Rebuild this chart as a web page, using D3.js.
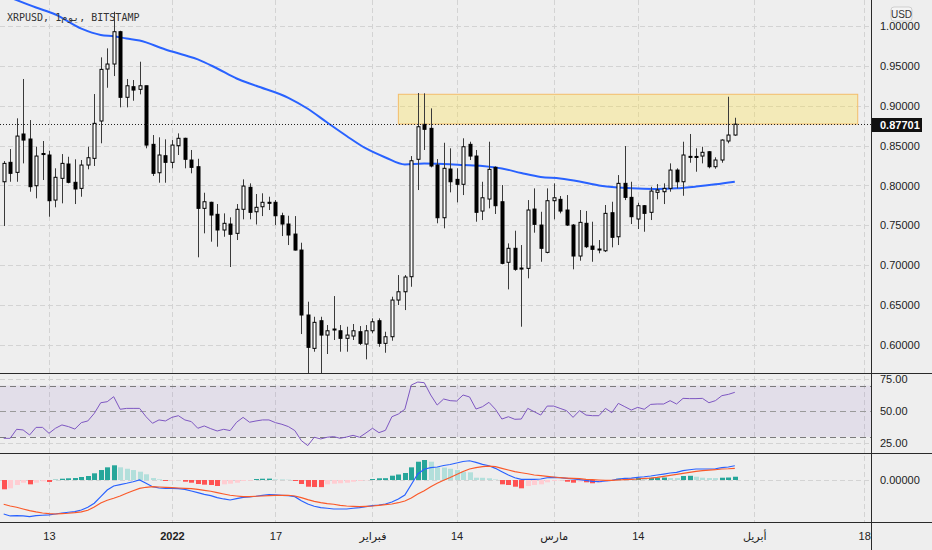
<!DOCTYPE html>
<html>
<head>
<meta charset="utf-8">
<script src="https://cdn.jsdelivr.net/npm/d3@7"></script>
<style>
  body { margin: 0; background: #eeeeee; }
  svg { display: block; font-family: "Liberation Sans", "DejaVu Sans", sans-serif; }
</style>
</head>
<body>
<script>
// daily candles, first one is 6 Dec 2021
var firstDay = "2021-12-06";

var opens = [
  0.8047, 0.8291, 0.8165, 0.8647, 0.8584, 0.7997, 0.8402, 0.8383, 0.7817, 0.8090,
  0.8270, 0.8040, 0.7964, 0.8257, 0.8341, 0.8810, 0.9463, 0.9526, 0.9932, 0.9108,
  0.9241, 0.9208, 0.9253, 0.8517, 0.8160, 0.8374, 0.8291, 0.8500, 0.8593, 0.8320,
  0.8236, 0.7713, 0.7789, 0.7638, 0.7441, 0.7516, 0.7399, 0.7701, 0.7977, 0.7670,
  0.7733, 0.7789, 0.7789, 0.7620, 0.7516, 0.7390, 0.7189, 0.6373, 0.5954, 0.6301,
  0.6121, 0.6197, 0.6175, 0.6080, 0.6109, 0.6163, 0.6008, 0.6175, 0.6301, 0.6017,
  0.6100, 0.6561, 0.6665, 0.6854, 0.8329, 0.8768, 0.8718, 0.8257, 0.7595, 0.8207,
  0.8077, 0.8015, 0.8517, 0.8370, 0.7679, 0.7830, 0.8228, 0.7796, 0.7035, 0.7211,
  0.6963, 0.6959, 0.7704, 0.7503, 0.7160, 0.7809, 0.7826, 0.7692, 0.7503, 0.7114,
  0.7525, 0.7239, 0.7202, 0.7180, 0.7658, 0.7356, 0.8027, 0.7851, 0.7579, 0.7746,
  0.7663, 0.7914, 0.7922, 0.7964, 0.8194, 0.8047, 0.8366, 0.8365, 0.8370, 0.8424,
  0.8236, 0.8320, 0.8559, 0.8634
];
var highs = [
  0.8307, 0.8458, 0.8844, 0.9338, 0.8822, 0.8487, 0.8559, 0.8437, 0.8216, 0.8395,
  0.8361, 0.8329, 0.8320, 0.8487, 0.9149, 0.9610, 0.9723, 1.0183, 0.9944, 0.9338,
  0.9325, 0.9555, 0.9253, 0.8634, 0.8605, 0.8580, 0.8571, 0.8655, 0.8600, 0.8446,
  0.8336, 0.7909, 0.7796, 0.7767, 0.7650, 0.7600, 0.7767, 0.8077, 0.8027, 0.7893,
  0.7902, 0.7859, 0.7817, 0.7658, 0.7620, 0.7616, 0.7281, 0.6540, 0.6351, 0.6351,
  0.6247, 0.6611, 0.6247, 0.6226, 0.6260, 0.6234, 0.6247, 0.6331, 0.6331, 0.6163,
  0.6603, 0.6875, 0.6875, 0.8370, 0.9162, 0.9158, 0.8969, 0.8332, 0.8537, 0.8467,
  0.8216, 0.8593, 0.8550, 0.8446, 0.8047, 0.8550, 0.8240, 0.8006, 0.7273, 0.7432,
  0.7252, 0.7817, 0.7964, 0.7670, 0.7964, 0.8027, 0.7868, 0.7880, 0.7516, 0.7692,
  0.7680, 0.7545, 0.7315, 0.7755, 0.7796, 0.8131, 0.8496, 0.8047, 0.7783, 0.7755,
  0.7984, 0.8018, 0.8027, 0.8278, 0.8216, 0.8550, 0.8647, 0.8467, 0.8487, 0.8433,
  0.8354, 0.8580, 0.9115, 0.8851
];
var lows = [
  0.7491, 0.8047, 0.8047, 0.8278, 0.7922, 0.7839, 0.8069, 0.7608, 0.7726, 0.7776,
  0.8027, 0.7767, 0.7859, 0.8203, 0.8245, 0.8530, 0.9228, 0.9375, 0.8982, 0.8982,
  0.9065, 0.9145, 0.8467, 0.8119, 0.8035, 0.8035, 0.8216, 0.8383, 0.8216, 0.8153,
  0.7098, 0.7399, 0.7294, 0.7231, 0.7356, 0.6976, 0.7315, 0.7575, 0.7575, 0.7510,
  0.7616, 0.7692, 0.7503, 0.7365, 0.7252, 0.7183, 0.6134, 0.5500, 0.5912, 0.5560,
  0.5883, 0.6059, 0.5912, 0.5912, 0.6059, 0.5996, 0.5816, 0.6143, 0.5974, 0.5899,
  0.6050, 0.6498, 0.6435, 0.6728, 0.7943, 0.8446, 0.8228, 0.7525, 0.7462, 0.7914,
  0.7788, 0.7880, 0.8320, 0.7545, 0.7566, 0.7713, 0.7642, 0.7010, 0.6695, 0.6929,
  0.6226, 0.6834, 0.7407, 0.7042, 0.7148, 0.7575, 0.7650, 0.7491, 0.6947, 0.7055,
  0.7214, 0.7042, 0.7148, 0.7164, 0.7223, 0.7252, 0.7817, 0.7516, 0.7453, 0.7419,
  0.7566, 0.7826, 0.7767, 0.7922, 0.7964, 0.7871, 0.8286, 0.8173, 0.8278, 0.8216,
  0.8211, 0.8286, 0.8530, 0.8625
];
var closes = [
  0.8278, 0.8153, 0.8621, 0.8571, 0.7985, 0.8370, 0.8389, 0.7809, 0.8103, 0.8278,
  0.8040, 0.7956, 0.8257, 0.8349, 0.8781, 0.9459, 0.9526, 0.9932, 0.9108, 0.9253,
  0.9199, 0.9253, 0.8508, 0.8153, 0.8383, 0.8291, 0.8508, 0.8593, 0.8329, 0.8228,
  0.7713, 0.7796, 0.7629, 0.7441, 0.7525, 0.7387, 0.7701, 0.7993, 0.7663, 0.7726,
  0.7789, 0.7780, 0.7620, 0.7516, 0.7378, 0.7189, 0.6373, 0.5967, 0.6281, 0.6121,
  0.6175, 0.6188, 0.6080, 0.6121, 0.6175, 0.6017, 0.6175, 0.6288, 0.6017, 0.6100,
  0.6561, 0.6665, 0.6850, 0.8311, 0.8738, 0.8706, 0.8245, 0.7595, 0.8216, 0.8047,
  0.8015, 0.8487, 0.8370, 0.7663, 0.7846, 0.8203, 0.7746, 0.7022, 0.7211, 0.6947,
  0.6955, 0.7692, 0.7512, 0.7211, 0.7809, 0.7846, 0.7679, 0.7503, 0.7114, 0.7537,
  0.7231, 0.7198, 0.7194, 0.7650, 0.7349, 0.8027, 0.7851, 0.7608, 0.7746, 0.7650,
  0.7930, 0.7943, 0.7964, 0.8194, 0.8047, 0.8383, 0.8358, 0.8358, 0.8417, 0.8236,
  0.8320, 0.8571, 0.8634, 0.87701
];

// moving average, read at some of the candles (index -> value)
var maIndex = [0, 5, 8, 12, 15, 17, 19, 21, 25, 28, 30, 33, 36, 39, 44, 47, 50, 53, 56, 59,
  62, 65, 68, 71, 74, 77, 80, 83, 86, 89, 92, 95, 98, 101, 104, 107, 110, 113];
var maValues = [1.0393, 1.0236, 1.0148, 0.9970, 0.9891, 0.9874, 0.9847, 0.9822, 0.9709, 0.9636,
  0.9585, 0.9470, 0.9344, 0.9253, 0.9102, 0.8964, 0.8791, 0.8622, 0.8465, 0.8352,
  0.8264, 0.8276, 0.8270, 0.8258, 0.8245, 0.8214, 0.8157, 0.8107, 0.8088, 0.8050,
  0.8000, 0.7975, 0.7962, 0.7956, 0.7965, 0.7987, 0.8015, 0.8048];

var rsiValues = [
  28.9, 28.9, 35.9, 35.4, 31.5, 37.4, 37.4, 32.8, 36.7, 39.3,
  38.0, 36.1, 41.1, 42.4, 48.3, 56.6, 57.4, 61.3, 51.5, 52.2,
  52.2, 52.2, 45.7, 40.6, 43.2, 42.4, 45.2, 46.5, 43.2, 41.9,
  36.7, 38.5, 36.4, 34.6, 35.9, 34.9, 41.4, 45.2, 41.4, 42.4,
  43.2, 43.2, 41.1, 39.8, 38.0, 34.9, 27.1, 23.2, 29.7, 28.4,
  29.7, 30.2, 28.9, 29.9, 31.2, 29.7, 33.1, 36.7, 33.3, 35.1,
  45.7, 47.8, 51.5, 70.4, 72.7, 72.2, 62.6, 54.8, 59.5, 58.2,
  57.9, 62.6, 61.1, 51.7, 53.5, 56.9, 51.5, 43.9, 45.7, 43.7,
  43.9, 52.2, 49.6, 47.0, 54.0, 54.0, 52.2, 50.4, 45.2, 50.4,
  47.0, 46.5, 46.5, 52.2, 48.9, 56.1, 53.5, 50.9, 53.0, 51.5,
  55.3, 55.6, 55.6, 58.2, 55.6, 60.0, 59.8, 59.8, 60.0, 56.6,
  58.2, 62.1, 63.1, 64.7
];

var macdValues = [
  -0.0654, -0.0692, -0.0687, -0.0692, -0.0706, -0.0687, -0.0679, -0.0673, -0.0654, -0.0635,
  -0.0621, -0.0610, -0.0577, -0.0525, -0.0448, -0.0321, -0.0192, -0.0115, -0.0090, -0.0063,
  -0.0033, 0.0000, -0.0063, -0.0129, -0.0154, -0.0160, -0.0160, -0.0167, -0.0179, -0.0212,
  -0.0244, -0.0275, -0.0302, -0.0340, -0.0365, -0.0385, -0.0360, -0.0333, -0.0327, -0.0313,
  -0.0294, -0.0283, -0.0288, -0.0294, -0.0302, -0.0321, -0.0398, -0.0462, -0.0506, -0.0533,
  -0.0544, -0.0558, -0.0558, -0.0558, -0.0544, -0.0533, -0.0513, -0.0494, -0.0481, -0.0462,
  -0.0423, -0.0365, -0.0288, -0.0087, 0.0115, 0.0208, 0.0237, 0.0250, 0.0279, 0.0298,
  0.0327, 0.0356, 0.0371, 0.0340, 0.0302, 0.0275, 0.0225, 0.0160, 0.0096, 0.0044,
  0.0013, 0.0013, 0.0013, 0.0019, 0.0044, 0.0052, 0.0044, 0.0033, 0.0019, 0.0006,
  -0.0006, -0.0025, -0.0033, -0.0019, -0.0006, 0.0019, 0.0033, 0.0038, 0.0052, 0.0063,
  0.0077, 0.0096, 0.0115, 0.0135, 0.0148, 0.0179, 0.0198, 0.0212, 0.0212, 0.0212,
  0.0217, 0.0237, 0.0250, 0.0275
];
var signalValues = [
  -0.0467, -0.0500, -0.0525, -0.0558, -0.0590, -0.0615, -0.0635, -0.0648, -0.0654, -0.0648,
  -0.0640, -0.0629, -0.0615, -0.0583, -0.0519, -0.0442, -0.0390, -0.0352, -0.0308, -0.0256,
  -0.0206, -0.0160, -0.0140, -0.0129, -0.0135, -0.0140, -0.0148, -0.0154, -0.0160, -0.0167,
  -0.0179, -0.0198, -0.0217, -0.0244, -0.0269, -0.0294, -0.0308, -0.0321, -0.0321, -0.0313,
  -0.0308, -0.0302, -0.0294, -0.0294, -0.0294, -0.0308, -0.0340, -0.0379, -0.0410, -0.0437,
  -0.0456, -0.0467, -0.0487, -0.0500, -0.0506, -0.0513, -0.0506, -0.0500, -0.0487, -0.0475,
  -0.0462, -0.0437, -0.0404, -0.0346, -0.0269, -0.0206, -0.0129, -0.0063, -0.0006, 0.0048,
  0.0106, 0.0163, 0.0212, 0.0237, 0.0256, 0.0269, 0.0256, 0.0225, 0.0192, 0.0160,
  0.0140, 0.0121, 0.0096, 0.0083, 0.0071, 0.0058, 0.0044, 0.0038, 0.0033, 0.0025,
  0.0013, 0.0006, 0.0000, -0.0006, -0.0006, 0.0000, 0.0006, 0.0013, 0.0019, 0.0033,
  0.0038, 0.0052, 0.0071, 0.0090, 0.0110, 0.0129, 0.0148, 0.0167, 0.0179, 0.0192,
  0.0198, 0.0212, 0.0217, 0.0225
];
var histValues = [
  -0.0179, -0.0160, -0.0096, -0.0052, -0.0083, -0.0052, -0.0025, -0.0038, 0.0006, 0.0025,
  0.0033, 0.0038, 0.0058, 0.0077, 0.0129, 0.0192, 0.0244, 0.0283, 0.0244, 0.0217,
  0.0192, 0.0160, 0.0110, 0.0038, 0.0013, -0.0019, -0.0012, -0.0006, -0.0033, -0.0052,
  -0.0077, -0.0090, -0.0096, -0.0115, -0.0083, -0.0071, -0.0052, -0.0019, -0.0013, 0.0019,
  0.0025, 0.0027, 0.0013, 0.0012, 0.0006, -0.0019, -0.0077, -0.0129, -0.0135, -0.0137,
  -0.0083, -0.0071, -0.0063, -0.0052, -0.0033, -0.0019, -0.0006, 0.0019, 0.0033, 0.0035,
  0.0083, 0.0106, 0.0135, 0.0244, 0.0352, 0.0385, 0.0352, 0.0244, 0.0240, 0.0217,
  0.0192, 0.0160, 0.0148, 0.0044, 0.0043, 0.0033, 0.0010, -0.0083, -0.0096, -0.0129,
  -0.0160, -0.0115, -0.0096, -0.0083, -0.0044, -0.0019, -0.0010, -0.0033, -0.0052, -0.0033,
  -0.0044, -0.0063, -0.0058, -0.0033, -0.0019, 0.0025, 0.0033, 0.0025, 0.0038, 0.0025,
  0.0044, 0.0045, 0.0048, 0.0038, 0.0037, 0.0077, 0.0081, 0.0063, 0.0044, 0.0038,
  0.0037, 0.0044, 0.0048, 0.0063
];

// yellow zone: [from, to], [low, high]
var zoneDays = ["2022-02-05", "2022-04-17"];
var zonePrices = [0.8772, 0.9146];

var priceTicks = [0.60, 0.65, 0.70, 0.75, 0.80, 0.85, 0.90, 0.95, 1.00];
var rsiTicks = [25, 50, 75];
var rsiBands = [30, 50, 70];
var macdTicks = [0];
var tickDays = ["2021-12-13", "2022-01-01", "2022-01-17", "2022-02-01", "2022-02-14",
  "2022-03-01", "2022-03-14", "2022-04-01", "2022-04-18"];
var tickLabels = ["13", "2022", "17", "فبراير", "14", "مارس", "14", "أبريل", "18"];

//All the variables
var width = 932, height = 550, plotRight = 871;
var mainBottom = 373, rsiBottom = 453, macdBottom = 522;
var gridColor = "#d3d3d3";

var parseDay = d3.utcParse("%Y-%m-%d");
var start = parseDay(firstDay);
var days = opens.map(function(d, i) { return d3.utcDay.offset(start, i); });

//Scales
var x = d3.scaleUtc()
    .domain([start, parseDay("2022-04-18")])
    .range([3.7, 864.2]);
var y = d3.scaleLinear().domain([0.60, 1.00]).range([344.7, 26.3]);
var yRsi = d3.scaleLinear().domain([25, 75]).range([443.3, 379.1]);
var yMacd = d3.scaleLinear().domain([-0.077, 0.052]).range([520, 453]);

//SVG
var svg = d3.select("body")
    .append("svg")
        .attr("width", width)
        .attr("height", height);

svg.append("rect").attr("width", width).attr("height", height).attr("fill", "#eeeeee");

var defs = svg.append("defs");
function addClip(id, top, bottom) {
    defs.append("clipPath").attr("id", id)
        .append("rect").attr("x", 0).attr("y", top)
        .attr("width", plotRight).attr("height", bottom - top);
}
addClip("clipMain", 0, mainBottom);
addClip("clipRsi", mainBottom, rsiBottom);
addClip("clipMacd", rsiBottom, macdBottom);

// grid
var grid = svg.append("g")
    .attr("stroke", gridColor)
    .attr("stroke-dasharray", "5,3");
grid.selectAll(".vgrid")
    .data(tickDays)
    .enter()
    .append("line")
    .attr("x1", function(d) { return Math.round(x(parseDay(d))) + 0.5; })
    .attr("x2", function(d) { return Math.round(x(parseDay(d))) + 0.5; })
    .attr("y1", 0)
    .attr("y2", macdBottom);
grid.selectAll(".hgrid")
    .data(priceTicks)
    .enter()
    .append("line")
    .attr("x1", 0).attr("x2", plotRight)
    .attr("y1", function(d) { return Math.round(y(d)) + 0.5; })
    .attr("y2", function(d) { return Math.round(y(d)) + 0.5; });
grid.selectAll(".rgrid")
    .data([25, 75])
    .enter()
    .append("line")
    .attr("x1", 0).attr("x2", plotRight)
    .attr("y1", function(d) { return Math.round(yRsi(d)) + 0.5; })
    .attr("y2", function(d) { return Math.round(yRsi(d)) + 0.5; });
grid.selectAll(".mgrid")
    .data(macdTicks)
    .enter()
    .append("line")
    .attr("x1", 0).attr("x2", plotRight)
    .attr("y1", function(d) { return Math.round(yMacd(d)) + 0.5; })
    .attr("y2", function(d) { return Math.round(yMacd(d)) + 0.5; });

// main pane
var main = svg.append("g").attr("clip-path", "url(#clipMain)");

main.append("rect")
    .attr("x", x(parseDay(zoneDays[0])))
    .attr("y", y(zonePrices[1]))
    .attr("width", x(parseDay(zoneDays[1])) - x(parseDay(zoneDays[0])))
    .attr("height", y(zonePrices[0]) - y(zonePrices[1]))
    .attr("fill", "rgba(255,225,60,0.3)")
    .attr("stroke", "#f4bd6a")
    .attr("stroke-width", 1);

var maLine = d3.line()
    .x(function(d) { return x(days[d[0]]); })
    .y(function(d) { return y(d[1]); })
    .curve(d3.curveMonotoneX);
main.append("path")
    .datum(maIndex.map(function(d, i) { return [d, maValues[i]]; }))
    .attr("d", maLine)
    .attr("fill", "none")
    .attr("stroke", "#2962ff")
    .attr("stroke-width", 2);

var candles = main.selectAll(".candle")
    .data(days)
    .enter()
    .append("g");
candles.append("line")
    .attr("x1", function(d) { return Math.round(x(d)) + 0.5; })
    .attr("x2", function(d) { return Math.round(x(d)) + 0.5; })
    .attr("y1", function(d, i) { return y(highs[i]); })
    .attr("y2", function(d, i) { return y(lows[i]); })
    .attr("stroke", "#3a3a3a")
    .attr("stroke-width", 1);
candles.append("rect")
    .attr("x", function(d) { return Math.round(x(d)) - 1; })
    .attr("y", function(d, i) { return y(Math.max(opens[i], closes[i])); })
    .attr("width", 3)
    .attr("height", function(d, i) { return Math.max(1, Math.abs(y(opens[i]) - y(closes[i]))); })
    .attr("fill", function(d, i) { return closes[i] >= opens[i] ? "#ffffff" : "#000000"; })
    .attr("stroke", "#000000")
    .attr("stroke-width", 1);

var lastClose = closes[closes.length - 1];
svg.append("line")
    .attr("x1", 0).attr("x2", plotRight)
    .attr("y1", Math.round(y(lastClose)) + 0.5)
    .attr("y2", Math.round(y(lastClose)) + 0.5)
    .attr("stroke", "#222")
    .attr("stroke-dasharray", "1,2");

// RSI pane
var rsi = svg.append("g").attr("clip-path", "url(#clipRsi)");
rsi.append("rect")
    .attr("x", 0).attr("width", plotRight)
    .attr("y", yRsi(70)).attr("height", yRsi(30) - yRsi(70))
    .attr("fill", "rgba(126,87,194,0.1)");
rsi.selectAll(".band")
    .data(rsiBands)
    .enter()
    .append("line")
    .attr("x1", 0).attr("x2", plotRight)
    .attr("y1", function(d) { return Math.round(yRsi(d)) + 0.5; })
    .attr("y2", function(d) { return Math.round(yRsi(d)) + 0.5; })
    .attr("stroke", function(d) { return d === 50 ? "#9a9a9a" : "#7b7b7b"; })
    .attr("stroke-dasharray", "6,4");
rsi.append("path")
    .datum(rsiValues)
    .attr("d", d3.line()
        .x(function(d, i) { return x(days[i]); })
        .y(function(d) { return yRsi(d); }))
    .attr("fill", "none")
    .attr("stroke", "#7e57c2")
    .attr("stroke-width", 1);

// MACD pane
var macd = svg.append("g").attr("clip-path", "url(#clipMacd)");
function histColor(d, i) {
    var prev = i > 0 ? histValues[i - 1] : null;
    if (d >= 0) return (prev === null || d > prev) ? "#26a69a" : "#b2dfdb";
    return (prev === null || d < prev) ? "#ff5252" : "#ffcdd2";
}
macd.selectAll(".bar")
    .data(histValues)
    .enter()
    .append("rect")
    .attr("x", function(d, i) { return Math.round(x(days[i])) - 2; })
    .attr("width", 5)
    .attr("y", function(d) { return Math.min(yMacd(d), yMacd(0)); })
    .attr("height", function(d) { return Math.abs(yMacd(d) - yMacd(0)); })
    .attr("fill", histColor);
var macdLine = d3.line()
    .x(function(d, i) { return x(days[i]); })
    .y(function(d) { return yMacd(d); });
macd.append("path").datum(macdValues).attr("d", macdLine)
    .attr("fill", "none").attr("stroke", "#2962ff").attr("stroke-width", 1.2);
macd.append("path").datum(signalValues).attr("d", macdLine)
    .attr("fill", "none").attr("stroke", "#fa5a2a").attr("stroke-width", 1.2);

// separators
var sep = svg.append("g").attr("stroke", "#2a2a2a").attr("stroke-width", 1);
[mainBottom, rsiBottom, macdBottom].forEach(function(v) {
    sep.append("line").attr("x1", 0).attr("x2", width).attr("y1", v + 0.5).attr("y2", v + 0.5);
});
sep.append("line").attr("x1", plotRight + 0.5).attr("x2", plotRight + 0.5).attr("y1", 0).attr("y2", height);

// right axes
function rightAxis(scale, ticks, fmt) {
    var g = svg.append("g")
        .attr("transform", "translate(" + plotRight + ",0)")
        .call(d3.axisRight(scale).tickValues(ticks).tickFormat(d3.format(fmt)).tickSize(0).tickPadding(9));
    g.select(".domain").remove();
    g.selectAll("text").attr("font-size", 11).attr("fill", "#222")
        .attr("font-family", "Liberation Sans, sans-serif");
}
rightAxis(y, priceTicks, ".5f");
rightAxis(yRsi, rsiTicks, ".2f");
rightAxis(yMacd, macdTicks, ".5f");

// bottom axis
var xAxis = svg.append("g")
    .attr("transform", "translate(0," + macdBottom + ")")
    .call(d3.axisBottom(x)
        .tickValues(tickDays.map(parseDay))
        .tickFormat(function(d, i) { return tickLabels[i]; })
        .tickSize(0)
        .tickPadding(10));
xAxis.select(".domain").remove();
xAxis.selectAll("text")
    .attr("font-size", 11)
    .attr("fill", "#222")
    .attr("font-family", "Liberation Sans, DejaVu Sans, sans-serif")
    .attr("font-weight", function(d, i) { return tickLabels[i] === "2022" ? "bold" : "normal"; });

// current price tag
svg.append("rect")
    .attr("x", plotRight + 1).attr("y", Math.round(y(lastClose)) - 6)
    .attr("width", 50).attr("height", 14)
    .attr("fill", "#111");
svg.append("text")
    .attr("x", plotRight + 9).attr("y", Math.round(y(lastClose)) + 5)
    .attr("font-size", 11).attr("font-weight", "bold").attr("fill", "#fff")
    .text(d3.format(".5f")(lastClose));

// USD badge
svg.append("rect")
    .attr("x", 891).attr("y", 7).attr("width", 21).attr("height", 14).attr("rx", 3)
    .attr("fill", "#f4f4f4").attr("stroke", "#cfcfcf");
svg.append("text")
    .attr("x", 901.5).attr("y", 18).attr("text-anchor", "middle")
    .attr("font-size", 10).attr("fill", "#333").text("USD");

// title
svg.append("text")
    .attr("x", 7).attr("y", 21)
    .attr("font-family", "DejaVu Sans Mono, monospace")
    .attr("font-size", 10).attr("fill", "#333")
    .text("XRPUSD, 1يوم, BITSTAMP");
</script>
</body>
</html>
